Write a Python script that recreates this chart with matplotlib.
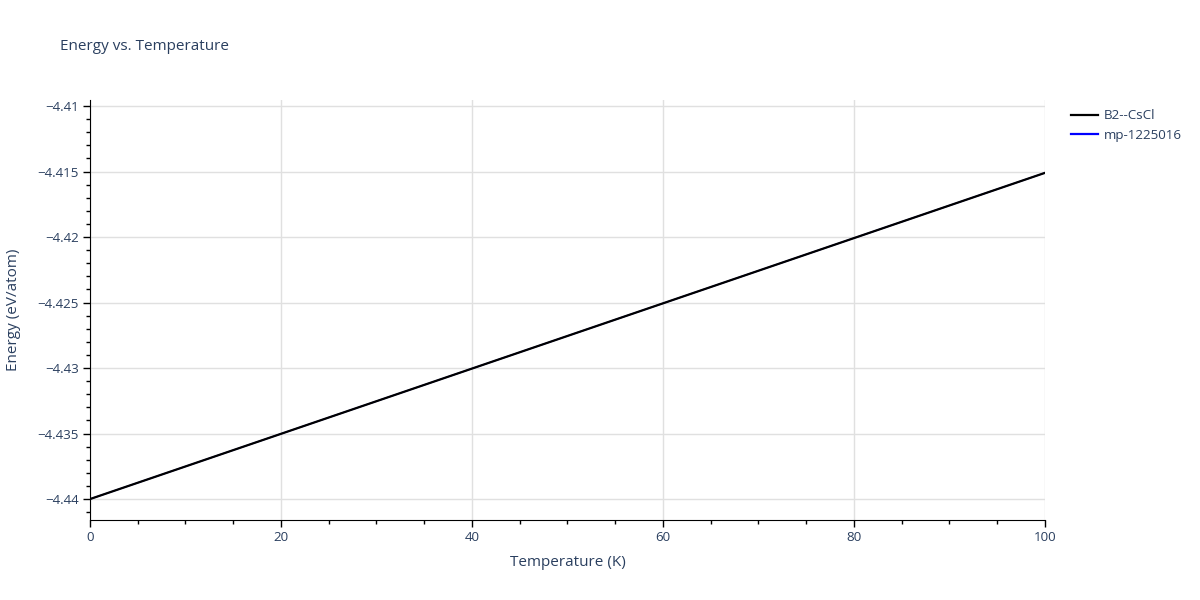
import matplotlib
matplotlib.use("Agg")
from matplotlib import pyplot as plt
from matplotlib.lines import Line2D
from matplotlib.ticker import MultipleLocator, FuncFormatter

plt.rcParams['font.family'] = ['Open Sans', 'DejaVu Sans']

# Data
temperature = [0, 10, 20, 30, 40, 50, 60, 70, 80, 90, 100]
energy_b2 = [-4.4400, -4.43751, -4.43502, -4.43253, -4.43004, -4.42755,
             -4.42506, -4.42257, -4.42008, -4.41759, -4.41510]
energy_mp = energy_b2
series_names = ['B2--CsCl', 'mp-1225016']
series_colors = ['black', '#0000ff']

text_color = '#2a3f5f'

fig = plt.figure(figsize=(12, 6), dpi=100)
ax = fig.add_axes([0.075, 0.1333, 0.7958, 0.7])

# blue series sits exactly under the black one
ax.plot(temperature, energy_mp, color=series_colors[1], lw=1.0)
ax.plot(temperature, energy_b2, color=series_colors[0], lw=1.6)

ax.set_xlim(0, 100)
ax.set_ylim(-4.4416, -4.40954)

ax.xaxis.set_major_locator(MultipleLocator(20))
ax.xaxis.set_minor_locator(MultipleLocator(5))
ax.yaxis.set_major_locator(MultipleLocator(0.005))
ax.yaxis.set_minor_locator(MultipleLocator(0.001))

def yfmt(v, pos):
    s = f"{v:.3f}".rstrip('0').rstrip('.')
    return s.replace('-', '\u2212')

ax.yaxis.set_major_formatter(FuncFormatter(yfmt))

ax.grid(True, which='major', color='#e0e0e0', lw=1)
ax.set_axisbelow(True)

for side in ['top', 'right']:
    ax.spines[side].set_visible(False)
ax.spines['left'].set_color('black')
ax.spines['bottom'].set_color('black')

ax.tick_params(which='major', direction='out', length=5, width=1, colors='black',
               labelcolor=text_color, labelsize=9.6, pad=3)
ax.tick_params(which='minor', direction='out', length=3, width=1, colors='black')

ax.set_xlabel('Temperature (K)', color=text_color, fontsize=11, labelpad=8)
ax.set_ylabel('Energy (eV/atom)', color=text_color, fontsize=11, labelpad=12)

fig.text(0.05, 0.922, 'Energy vs. Temperature', color=text_color, fontsize=11,
         ha='left', va='center')

handles = [Line2D([], [], color=c, lw=1.6) for c in series_colors]
ax.legend(handles=handles, labels=series_names, loc='upper left',
          bbox_to_anchor=(1.018, 1.0), frameon=False, fontsize=9.6,
          labelcolor=text_color, handlelength=2.0, handletextpad=0.45,
          borderaxespad=0.3, labelspacing=0.5)

fig.savefig('out.png', dpi=100)
